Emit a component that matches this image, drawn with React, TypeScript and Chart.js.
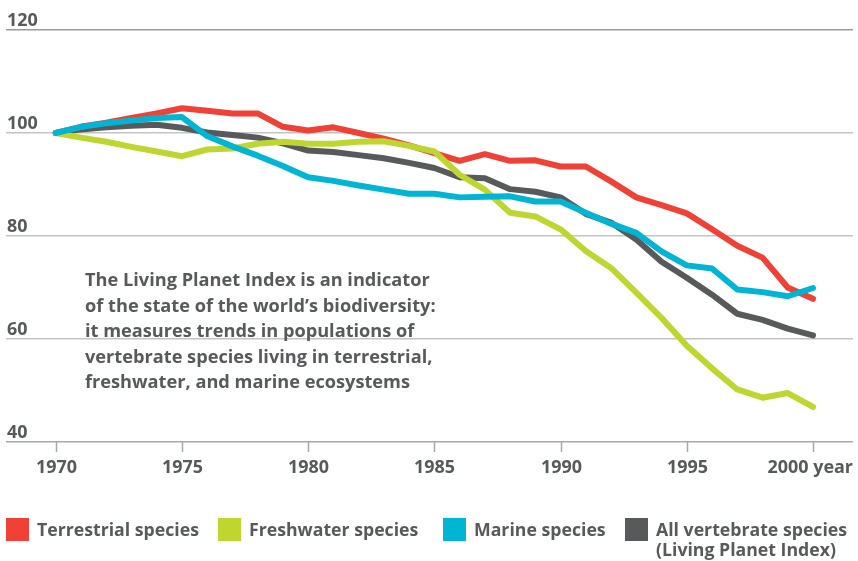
import React, { useEffect, useRef } from "react";
import { Chart, registerables } from "chart.js";

Chart.register(...registerables);

const years = [
  1970, 1971, 1972, 1973, 1974, 1975, 1976, 1977, 1978, 1979,
  1980, 1981, 1982, 1983, 1984, 1985, 1986, 1987, 1988, 1989,
  1990, 1991, 1992, 1993, 1994, 1995, 1996, 1997, 1998, 1999, 2000,
];

const terrestrial = [
  100.0, 101.2, 102.0, 102.9, 103.8, 104.8, 104.3, 103.8, 103.8, 101.2,
  100.5, 101.1, 100.0, 98.9, 97.6, 96.1, 94.6, 95.9, 94.6, 94.7,
  93.5, 93.5, 90.6, 87.5, 86.0, 84.4, 81.3, 78.1, 75.8, 70.0, 67.8,
];

const freshwater = [
  100.0, 99.1, 98.3, 97.3, 96.4, 95.5, 96.8, 97.0, 97.9, 98.3,
  97.9, 97.9, 98.3, 98.4, 97.5, 96.4, 91.9, 89.0, 84.5, 83.8,
  81.3, 77.1, 73.8, 69.0, 64.1, 58.7, 54.3, 50.2, 48.6, 49.5, 46.8,
];

const marine = [
  100.0, 101.2, 101.9, 102.4, 102.9, 103.1, 99.4, 97.4, 95.6, 93.6,
  91.4, 90.7, 89.8, 89.0, 88.2, 88.2, 87.5, 87.6, 87.7, 86.7,
  86.7, 84.5, 82.4, 80.6, 77.0, 74.3, 73.7, 69.6, 69.1, 68.3, 69.9,
];

const allSpecies = [
  100.0, 100.7, 101.1, 101.4, 101.6, 101.0, 100.1, 99.6, 99.1, 98.0,
  96.6, 96.3, 95.7, 95.1, 94.2, 93.2, 91.4, 91.2, 89.1, 88.6,
  87.5, 84.3, 82.6, 79.3, 75.0, 71.9, 68.6, 64.9, 63.7, 62.0, 60.7,
];

const seriesLabels: string[][] = [
  ["Terrestrial species"],
  ["Freshwater species"],
  ["Marine species"],
  ["All vertebrate species", "(Living Planet Index)"],
];

const xTickValues = [1970, 1975, 1980, 1985, 1990, 1995, 2000];
const xTickLabels = ["1970", "1975", "1980", "1985", "1990", "1995", "2000 year"];
const yTickValues = [40, 60, 80, 100, 120];

const noteLines = [
  "The Living Planet Index is an indicator",
  "of the state of the world\u2019s biodiversity:",
  "it measures trends in populations of",
  "vertebrate species living in terrestrial,",
  "freshwater, and marine ecosystems",
];

const COLORS = ["#f04136", "#bed62f", "#00b4d3", "#58595b"];
const TEXT = "#58595b";
const FAMILY = "'Open Sans', 'Noto Sans', sans-serif";
const LEGEND_X = [6, 218, 443, 625];

const toPoints = (vals: number[]) => vals.map((v, i) => ({ x: years[i], y: v }));

// pick a bold font size whose rendered width of `sample` equals `target` px
function fitFont(ctx: CanvasRenderingContext2D, sample: string, target: number) {
  ctx.font = `bold 20px ${FAMILY}`;
  const w = ctx.measureText(sample).width;
  const size = (20 * target) / w;
  return `bold ${size.toFixed(2)}px ${FAMILY}`;
}

const overlay = {
  id: "overlay",
  afterDraw(chart: any) {
    const { ctx, chartArea, scales } = chart;
    const xs = scales.x;
    const ys = scales.y;
    ctx.save();
    ctx.fillStyle = TEXT;
    ctx.textBaseline = "alphabetic";
    ctx.textAlign = "left";

    const tickFont = fitFont(ctx, "1970", 41);
    const legendFont = fitFont(ctx, seriesLabels[0][0], 162);
    const noteFont = fitFont(ctx, noteLines[0], 345);

    // y labels above gridlines
    ctx.font = tickFont;
    yTickValues.forEach((v) => {
      const y = ys.getPixelForValue(v);
      ctx.fillText(String(v), chartArea.left + 1, y - 4.5);
    });

    // x tick marks and labels
    ctx.strokeStyle = "#a8a8a8";
    ctx.lineWidth = 1.5;
    xTickValues.forEach((v, i) => {
      const x = Math.round(xs.getPixelForValue(v)) + 0.5;
      ctx.beginPath();
      ctx.moveTo(x, chartArea.bottom);
      ctx.lineTo(x, chartArea.bottom + 10);
      ctx.stroke();
      const label = xTickLabels[i];
      const w = ctx.measureText(label).width;
      let left = x - w / 2;
      if (left + w > chartArea.right) left = chartArea.right - w;
      ctx.fillText(label, left, chartArea.bottom + 31);
    });

    // legend
    ctx.font = legendFont;
    seriesLabels.forEach((lines, i) => {
      const x = LEGEND_X[i];
      ctx.fillStyle = COLORS[i];
      ctx.fillRect(x, 518, 23, 23);
      ctx.fillStyle = TEXT;
      lines.forEach((t, j) => {
        ctx.fillText(t, x + 31, 536 + j * 20);
      });
    });

    // annotation
    ctx.font = noteFont;
    noteLines.forEach((t, j) => {
      ctx.fillText(t, 85, 286 + j * 25.5);
    });
    ctx.restore();
  },
};

export default function App() {
  const ref = useRef<HTMLCanvasElement | null>(null);

  useEffect(() => {
    if (!ref.current) return;
    const series = [terrestrial, freshwater, marine, allSpecies];
    const orders = [2, 1, 0, 3];
    const chart = new Chart(ref.current, {
      type: "line",
      data: {
        datasets: series.map((vals, i) => ({
          label: seriesLabels[i].join(" "),
          data: toPoints(vals),
          borderColor: COLORS[i],
          backgroundColor: COLORS[i],
          borderWidth: 6,
          pointRadius: 0,
          tension: 0,
          borderJoinStyle: "round",
          borderCapStyle: "round",
          clip: false,
          order: orders[i],
        })),
      },
      options: {
        animation: false,
        responsive: false,
        layout: { padding: { left: 6, right: 5, top: 30, bottom: 119 } },
        plugins: {
          legend: { display: false },
          tooltip: { enabled: false },
        },
        scales: {
          x: {
            type: "linear",
            min: 1968.03,
            max: 2001.585,
            display: false,
          },
          y: {
            min: 40,
            max: 120,
            ticks: { display: false, stepSize: 20 },
            border: { display: false },
            grid: {
              drawTicks: false,
              lineWidth: 1.5,
              color: (c: any) =>
                c.tick && c.tick.value === 120
                  ? "#9a9a9a"
                  : c.tick && c.tick.value === 40
                  ? "#a8a8a8"
                  : "#c4c4c4",
            },
          },
        },
      } as any,
      plugins: [overlay],
    });
    return () => chart.destroy();
  }, []);

  return (
    <div style={{ position: "absolute", left: 0, top: 0, width: 858, height: 561, background: "#fff" }}>
      <canvas ref={ref} width={858} height={561} style={{ display: "block" }} />
    </div>
  );
}
